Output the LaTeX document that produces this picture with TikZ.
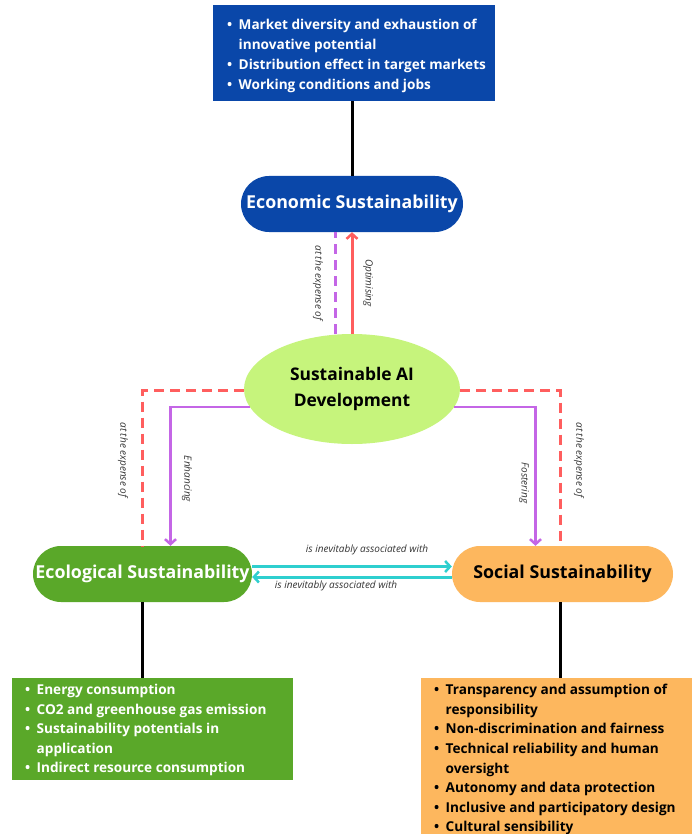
\documentclass[tikz,border=0pt]{standalone}
\usepackage{fontspec}
\setmainfont{Open Sans}
\usetikzlibrary{arrows.meta,shapes.geometric}
\definecolor{econblue}{HTML}{0A47A9}
\definecolor{ecogreen}{HTML}{5AA829}
\definecolor{socorange}{HTML}{FDB75E}
\definecolor{saigreen}{HTML}{C6F47C}
\definecolor{linkred}{HTML}{FF5E5E}
\definecolor{linkpurple}{HTML}{C466E6}
\definecolor{linkcyan}{HTML}{2FCFCF}
\definecolor{labelgray}{HTML}{333333}
\newcommand{\bul}{\makebox[11.5pt][l]{\textbullet}}
\newcommand{\cnt}{\hspace*{11.5pt}}
\tikzset{
  pill/.style={rectangle, rounded corners=28pt, minimum height=56pt, inner sep=0pt,
    font=\fontsize{17.8}{20}\selectfont\bfseries},
  listbox/.style={rectangle, inner sep=0pt, anchor=north west},
  listtext/.style={anchor=north west, inner sep=0pt, align=left,
    font=\fontsize{13.6}{19.6}\selectfont\bfseries},
  stem/.style={draw=black, line width=3pt},
  tip/.style={-{Straight Barb[length=5pt,width=11pt,line width=2.5pt]}},
  redexp/.style={draw=linkred, line width=3pt, dash pattern=on 10pt off 6pt},
  purpexp/.style={draw=linkpurple, line width=3pt, dash pattern=on 10pt off 6pt},
  purparrow/.style={draw=linkpurple, line width=2.5pt, tip},
  redarrow/.style={draw=linkred, line width=3pt, tip},
  cyanarrow/.style={draw=linkcyan, line width=3pt, tip},
  lbl/.style={font=\fontsize{10}{12}\selectfont\itshape, text=labelgray, inner sep=1pt},
}
\begin{document}
\begin{tikzpicture}[x=1pt,y=-1pt]
\useasboundingbox (0,0) rectangle (691,834);
\fill[white] (0,0) rectangle (691,834);

% description boxes
\node[listbox, fill=econblue, minimum width=282pt, minimum height=96pt] (econlist) at (213,5) {};
\node[listbox, fill=ecogreen, minimum width=281pt, minimum height=102pt] (ecolist) at (12,678) {};
\node[listbox, fill=socorange, minimum width=290pt, minimum height=170pt] (soclist) at (421,678) {};

% central nodes
\node[pill, fill=econblue, text=white, minimum width=222pt] (econ) at (352,204) {Economic Sustainability};
\node[ellipse, fill=saigreen, minimum width=216pt, minimum height=110pt, inner sep=0pt, align=center,
  font=\fontsize{17.4}{26}\selectfont\bfseries] (sai) at (352,389) {Sustainable AI\\Development};
\node[pill, fill=ecogreen, text=white, minimum width=219pt] (eco) at (142.5,574) {Ecological Sustainability};
\node[pill, fill=socorange, text=black, minimum width=221pt] (soc) at (562.5,574) {Social Sustainability};

% stems to description boxes
\draw[stem] (econ.north) -- (econ.north |- econlist.south);
\draw[stem] (eco.south) -- (eco.south |- ecolist.north);
\draw[stem] ([xshift=-2pt]soc.south) -- ([xshift=-2pt]soc.south |- soclist.north);

% economic links
\draw[purpexp] ([xshift=-17pt]sai.north) -- ([xshift=-17pt]econ.south);
\draw[redarrow] (sai.north) -- (econ.south);
\node[lbl, rotate=-90] (lexpe) at (318,283) {at the expense of};
\node[lbl, rotate=-90] (lopt) at (368,283) {Optimising};

% ecological links
\draw[redexp] (sai.181) -| (eco.north);
\draw[purparrow] (sai.190) -| ([xshift=28pt]eco.north);
\node[lbl, rotate=-90] (lexpl) at (123,460) {at the expense of};
\node[lbl, rotate=-90] (lenh) at (187,479) {Enhancing};

% social links
\draw[redexp] (sai.-1) -| ([xshift=-2pt]soc.north);
\draw[purparrow] (sai.-10) -| ([xshift=-27pt]soc.north);
\node[lbl, rotate=-90] (lexpr) at (579,460) {at the expense of};
\node[lbl, rotate=-90] (lfos) at (524,483) {Fostering};

% mutual association
\draw[cyanarrow] ([yshift=7.5pt]eco.east) -- ([yshift=7.5pt]soc.west);
\draw[cyanarrow] ([yshift=-3pt]soc.west) -- ([yshift=-3pt]eco.east);
\node[lbl] (lassoc1) at (367,550) {is inevitably associated with};
\node[lbl] (lassoc2) at (336,586) {is inevitably associated with};

% description texts
\node[listtext, text=white, font=\fontsize{13.6}{20}\selectfont\bfseries] (econtext) at (227,19)
  {\bul Market diversity and exhaustion of\\
   \cnt innovative potential\\
   \bul Distribution effect in target markets\\
   \bul Working conditions and jobs};
\node[listtext, text=white] (ecotext) at (25,684)
  {\bul Energy consumption\\
   \bul CO2 and greenhouse gas emission\\
   \bul Sustainability potentials in\\
   \cnt application\\
   \bul Indirect resource consumption};
\node[listtext, text=black] (soctext) at (434,684)
  {\bul Transparency and assumption of\\
   \cnt responsibility\\
   \bul Non-discrimination and fairness\\
   \bul Technical reliability and human\\
   \cnt oversight\\
   \bul Autonomy and data protection\\
   \bul Inclusive and participatory design\\
   \bul Cultural sensibility};
\end{tikzpicture}
\end{document}
